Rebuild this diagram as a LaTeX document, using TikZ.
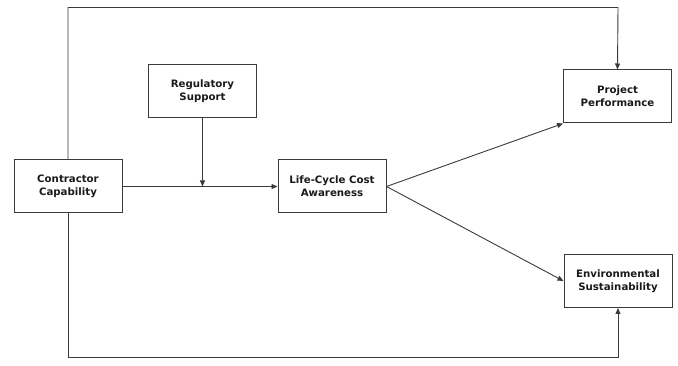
\documentclass[tikz,border=0pt]{standalone}
\usepackage{fontspec}
\setmainfont{DejaVu Sans}
\usetikzlibrary{arrows.meta}
\definecolor{lc}{HTML}{3A3A3A}
\definecolor{tc}{HTML}{1A1A1A}
\begin{document}
\begin{tikzpicture}[x=1pt,y=-1pt,
  box/.style={draw=lc,line width=1pt,fill=white,text=tc,minimum width=108pt,minimum height=53pt,inner sep=0pt,align=center,font=\fontsize{10.2}{13}\selectfont\bfseries},
  conn/.style={draw=lc,line width=0.9pt,-{Triangle[length=6pt,width=5pt]}}]
\useasboundingbox (0,0) rectangle (678,366);
\node[box] (cc) at (68,186.5) {Contractor\\Capability};
\node[box] (rs) at (202.5,91.5) {Regulatory\\Support};
\node[box] (lc) at (332,186.5) {Life-Cycle Cost\\Awareness};
\node[box] (pp) at (617.5,96.5) {Project\\Performance};
\node[box] (es) at (618,281) {Environmental\\Sustainability};
\coordinate (m) at (202.5,186.5);
\coordinate (tl) at (68,7.5);
\coordinate (tr) at (618,7.5);
\coordinate (bl) at (68,357);
\coordinate (br) at (618,357);
\draw[conn] (cc.east) -- (lc.west);
\draw[conn] (rs.south) -- (m);
\draw[conn] (cc.north) -- (tl) -- (tr) -- (pp.north);
\draw[conn] (cc.south) -- (bl) -- (br) -- (es.south);
\draw[conn] (lc.east) -- (pp.south west);
\draw[conn] (lc.east) -- (es.west);
\end{tikzpicture}
\end{document}
